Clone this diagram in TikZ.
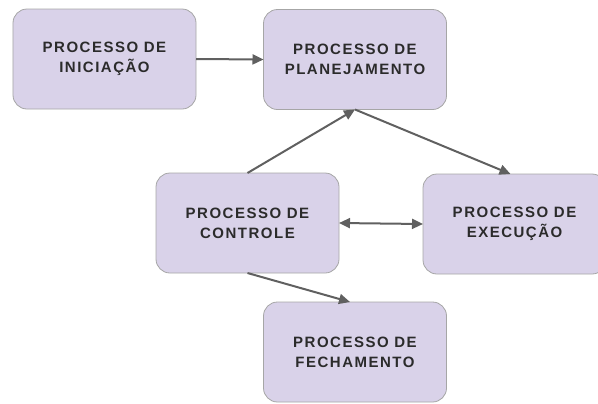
\documentclass[tikz,border=0pt]{standalone}
\usepackage{fontspec}
\setmainfont{Liberation Sans}[LetterSpace=10]
\usetikzlibrary{arrows.meta}
\definecolor{boxfill}{HTML}{D9D2E9}
\definecolor{boxline}{HTML}{A6A6A6}
\definecolor{arrowcol}{HTML}{606060}
\definecolor{textcol}{HTML}{2B2B2B}
\tikzset{
  procbox/.style={draw=boxline, line width=0.8bp, fill=boxfill, rounded corners=14bp,
    minimum width=183bp, minimum height=100bp, inner sep=0pt, outer sep=0pt,
    align=center, text=textcol, font=\fontsize{15bp}{20bp}\selectfont\bfseries},
  conn/.style={draw=arrowcol, line width=2bp, -{Triangle[length=11bp,width=10bp]}},
  dconn/.style={draw=arrowcol, line width=2bp, {Triangle[length=11bp,width=10bp]}-{Triangle[length=11bp,width=10bp]}}
}
\begin{document}
\begin{tikzpicture}[x=1bp,y=-1bp]
\useasboundingbox (0,0) rectangle (598,403);
\node[procbox] (ini) at (104.5,59) {PROCESSO DE\\INICIAÇÃO};
\node[procbox] (plan) at (355,59.5) {PROCESSO DE\\PLANEJAMENTO};
\node[procbox] (ctrl) at (247.5,223) {PROCESSO DE\\CONTROLE};
\node[procbox] (exec) at (514.5,224) {PROCESSO DE\\EXECUÇÃO};
\node[procbox] (fech) at (355,352) {PROCESSO DE\\FECHAMENTO};
\draw[conn] (ini.east) -- (plan.west);
\draw[conn] (ctrl.north) -- (plan.south);
\draw[conn] (plan.south) -- ([xshift=-4bp]exec.north);
\draw[dconn] (ctrl.east) -- (exec.west);
\draw[conn] (ctrl.south) -- ([xshift=-5bp]fech.north);
\end{tikzpicture}
\end{document}
